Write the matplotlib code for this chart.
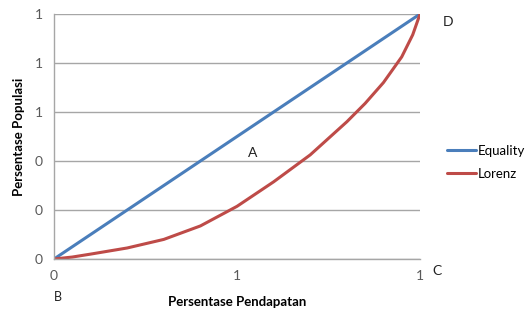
import math
import matplotlib.pyplot as plt
from matplotlib.ticker import FuncFormatter

plt.rcParams['font.family'] = ['Lato', 'DejaVu Sans']

# data
pendapatan = [0, 0.05, 0.1, 0.2, 0.3, 0.4, 0.5, 0.6, 0.7, 0.8, 0.85, 0.9, 0.95, 0.98, 1]
lorenz = [0, 0.008, 0.02, 0.045, 0.08, 0.135, 0.215, 0.315, 0.425, 0.56, 0.635, 0.72, 0.825, 0.915, 1]
equality_x = [0, 1]
equality_y = [0, 1]

yticks = [0, 0.2, 0.4, 0.6, 0.8, 1]
xticks = [0, 0.5, 1]

fig = plt.figure(figsize=(5.3, 3.11), dpi=100)
ax = fig.add_axes([0.1019, 0.1672, 0.6906, 0.7878])

ax.plot(equality_x, equality_y, color='#4A7EBB', lw=2.2, label='Equality', solid_capstyle='round')
ax.plot(pendapatan, lorenz, color='#BE4B48', lw=2.2, label='Lorenz',
        solid_capstyle='round', solid_joinstyle='round')

ax.set_xlim(0, 1)
ax.set_ylim(0, 1)
ax.set_yticks(yticks)
ax.set_xticks(xticks)
fmt = FuncFormatter(lambda v, p: '%d' % math.floor(v + 0.5))
ax.yaxis.set_major_formatter(fmt)
ax.xaxis.set_major_formatter(fmt)
ax.tick_params(length=0, labelsize=10, colors='#595959', pad=8)
ax.yaxis.grid(True, color='#A6A6A6', lw=1)
ax.set_axisbelow(True)
for s in ['top', 'right']:
    ax.spines[s].set_visible(False)
for s in ['left', 'bottom']:
    ax.spines[s].set_color('#A6A6A6')
    ax.spines[s].set_linewidth(1)

ax.set_xlabel('Persentase Pendapatan', fontsize=9.5, fontweight='bold', labelpad=10)
ax.set_ylabel('Persentase Populasi', fontsize=9.5, fontweight='bold', labelpad=7)

fig.legend(*ax.get_legend_handles_labels(), loc='center left',
           bbox_to_anchor=(447 / 530, 1 - 162.5 / 311), frameon=False,
           borderpad=0, borderaxespad=0, fontsize=9.5, handlelength=2.2,
           handletextpad=0.15, labelspacing=0.85)

fig.text(253 / 530, 1 - 153 / 311, 'A', fontsize=10, ha='center', va='center', color='#222222')
fig.text(58 / 530, 1 - 297 / 311, 'B', fontsize=9, ha='center', va='center', color='#222222')
fig.text(437 / 530, 1 - 271 / 311, 'C', fontsize=10, ha='center', va='center', color='#222222')
fig.text(448 / 530, 1 - 22 / 311, 'D', fontsize=10, ha='center', va='center', color='#222222')

fig.savefig('out.png', dpi=100)
